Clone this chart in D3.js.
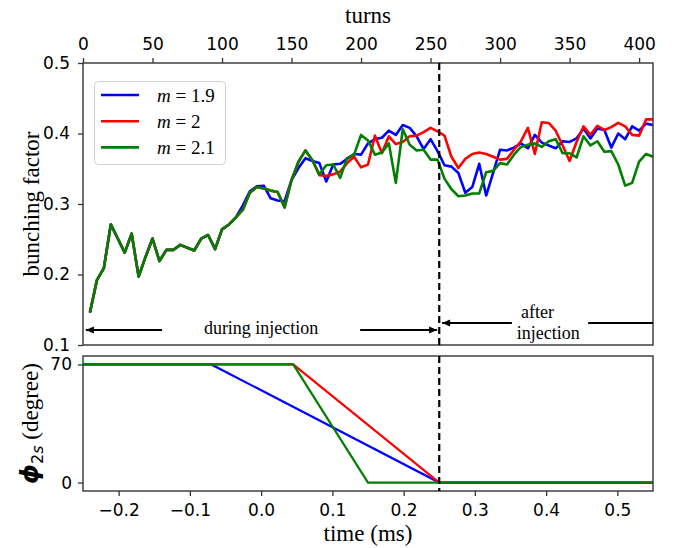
<!DOCTYPE html>
<html lang="en">
<head>
    <meta charset="UTF-8">
    <title>Bunching factor</title>
    <script src="https://d3js.org/d3.v7.min.js"></script>
    <style>
        body, html {
            margin: 0;
            padding: 0;
            background-color: #ffffff;
        }

        svg {
            display: block;
        }

        .tick text {
            font-family: 'DejaVu Sans', sans-serif;
            font-size: 17px;
            fill: #000;
        }

        .tick line {
            stroke: #333;
            stroke-width: 1.3px;
        }

        .serif {
            font-family: 'Liberation Serif', 'Times New Roman', serif;
            fill: #000;
        }
    </style>
</head>
<body>

<svg id="chart" width="681" height="548"></svg>

<script>
    // turns at which the bunching factor was sampled
    const turns = [5, 10, 15, 20, 25, 30, 35, 40, 45, 50,
        55, 60, 65, 70, 75, 80, 85, 90, 95, 100,
        105, 110, 115, 120, 125, 130, 135, 140, 145, 150,
        155, 160, 165, 170, 175, 180, 185, 190, 195, 200,
        205, 210, 215, 220, 225, 230, 235, 240, 245, 250,
        255, 260, 265, 270, 275, 280, 285, 290, 295, 300,
        305, 310, 315, 320, 325, 330, 335, 340, 345, 350,
        355, 360, 365, 370, 375, 380, 385, 390, 395, 400,
        405, 410];

    const bfBlue = [0.146, 0.192, 0.209, 0.271, 0.251, 0.231, 0.258, 0.197, 0.225, 0.251,
        0.219, 0.235, 0.235, 0.242, 0.238, 0.234, 0.251, 0.256, 0.236, 0.264,
        0.271, 0.281, 0.298, 0.318, 0.325, 0.326, 0.308, 0.305, 0.304, 0.334,
        0.351, 0.365, 0.361, 0.358, 0.332, 0.356, 0.357, 0.364, 0.371, 0.370,
        0.386, 0.392, 0.394, 0.404, 0.398, 0.412, 0.408, 0.396, 0.378, 0.392,
        0.375, 0.355, 0.353, 0.344, 0.316, 0.324, 0.357, 0.312, 0.344, 0.377,
        0.376, 0.380, 0.386, 0.379, 0.398, 0.387, 0.383, 0.379, 0.389, 0.388,
        0.393, 0.407, 0.393, 0.407, 0.405, 0.380, 0.400, 0.392, 0.410, 0.404,
        0.414, 0.412];

    const bfRed = [0.146, 0.192, 0.209, 0.271, 0.251, 0.231, 0.258, 0.197, 0.225, 0.251,
        0.219, 0.235, 0.235, 0.242, 0.238, 0.234, 0.251, 0.256, 0.236, 0.264,
        0.271, 0.281, 0.292, 0.316, 0.324, 0.322, 0.319, 0.317, 0.295, 0.334,
        0.360, 0.376, 0.362, 0.341, 0.340, 0.342, 0.346, 0.358, 0.367, 0.352,
        0.356, 0.397, 0.372, 0.396, 0.385, 0.388, 0.396, 0.397, 0.402, 0.408,
        0.403, 0.397, 0.367, 0.351, 0.364, 0.371, 0.373, 0.371, 0.367, 0.363,
        0.364, 0.377, 0.389, 0.408, 0.371, 0.416, 0.415, 0.404, 0.383, 0.361,
        0.388, 0.410, 0.398, 0.411, 0.405, 0.409, 0.415, 0.410, 0.398, 0.397,
        0.420, 0.420];

    const bfGreen = [0.146, 0.192, 0.209, 0.271, 0.251, 0.231, 0.258, 0.197, 0.225, 0.251,
        0.219, 0.235, 0.235, 0.242, 0.238, 0.234, 0.251, 0.256, 0.236, 0.264,
        0.271, 0.281, 0.292, 0.316, 0.324, 0.322, 0.319, 0.317, 0.295, 0.334,
        0.360, 0.376, 0.362, 0.342, 0.355, 0.356, 0.337, 0.365, 0.370, 0.398,
        0.390, 0.370, 0.373, 0.386, 0.330, 0.406, 0.384, 0.376, 0.377, 0.363,
        0.363, 0.336, 0.321, 0.311, 0.312, 0.315, 0.315, 0.345, 0.347, 0.358,
        0.356, 0.370, 0.381, 0.384, 0.386, 0.381, 0.389, 0.392, 0.372, 0.372,
        0.366, 0.396, 0.383, 0.389, 0.374, 0.375, 0.356, 0.326, 0.330, 0.360,
        0.371, 0.367];

    // phi_2s ramps (time in ms, phase in degree)
    const timeBlue = [-0.25, -0.07, 0.25, 0.55];
    const phaseBlue = [70, 70, 0, 0];
    const timeRed = [-0.25, 0.045, 0.25, 0.55];
    const phaseRed = [70, 70, 0, 0];
    const timeGreen = [-0.25, 0.045, 0.15, 0.55];
    const phaseGreen = [70, 70, 0, 0];

    const mValues = ["1.9", "2", "2.1"];
    const colors = ["#0000ff", "#ff0000", "#008000"];

    const turnTicks = [0, 50, 100, 150, 200, 250, 300, 350, 400];
    const bfTicks = [0.1, 0.2, 0.3, 0.4, 0.5];
    const timeTicks = [-0.2, -0.1, 0.0, 0.1, 0.2, 0.3, 0.4, 0.5];
    const phaseTicks = [0, 70];
    const injectionEnd = 0.25;

    const left = 83, right = 653;
    const top1 = 63, bottom1 = 345;
    const top2 = 356, bottom2 = 491;

    const svg = d3.select("#chart");

    const xTurns = d3.scaleLinear().domain([0, 410]).range([left, right]);
    const xTime = d3.scaleLinear().domain([-0.25, 0.55]).range([left, right]);
    const yBF = d3.scaleLinear().domain([0.1, 0.5]).range([bottom1, top1]);
    const yPh = d3.scaleLinear().domain([-5, 75]).range([bottom2, top2]);

    // clip paths for the two panels
    const defs = svg.append("defs");
    defs.append("clipPath").attr("id", "clipTop")
        .append("rect").attr("x", left).attr("y", top1).attr("width", right - left).attr("height", bottom1 - top1);
    defs.append("clipPath").attr("id", "clipBot")
        .append("rect").attr("x", left).attr("y", top2).attr("width", right - left).attr("height", bottom2 - top2);

    // ---------- top panel ----------
    const bfSeries = [bfBlue, bfRed, bfGreen];
    const lineBF = d3.line()
        .x((d, i) => xTurns(turns[i]))
        .y(d => yBF(d));

    const gTop = svg.append("g").attr("clip-path", "url(#clipTop)");
    bfSeries.forEach((s, k) => {
        gTop.append("path")
            .datum(s)
            .attr("d", lineBF)
            .attr("fill", "none")
            .attr("stroke", colors[k])
            .attr("stroke-width", 2.6)
            .attr("stroke-linejoin", "round");
    });

    // top axis (turns)
    const axTop = svg.append("g")
        .attr("transform", `translate(0,${top1})`)
        .call(d3.axisTop(xTurns).tickValues(turnTicks).tickSize(5).tickPadding(8).tickFormat(d3.format("d")));
    axTop.select(".domain").remove();

    const axLeft1 = svg.append("g")
        .attr("transform", `translate(${left},0)`)
        .call(d3.axisLeft(yBF).tickValues(bfTicks).tickSize(5).tickPadding(8).tickFormat(d3.format(".1f")));
    axLeft1.select(".domain").remove();

    svg.append("rect")
        .attr("x", left).attr("y", top1)
        .attr("width", right - left).attr("height", bottom1 - top1)
        .attr("fill", "none").attr("stroke", "#333").attr("stroke-width", 1.4);

    svg.append("text").attr("class", "serif")
        .attr("x", (left + right) / 2).attr("y", 23)
        .attr("text-anchor", "middle").attr("font-size", 23)
        .text("turns");

    svg.append("text").attr("class", "serif")
        .attr("transform", `translate(39,${(top1 + bottom1) / 2}) rotate(-90)`)
        .attr("text-anchor", "middle").attr("font-size", 23)
        .text("bunching factor");

    // legend
    const legend = svg.append("g");
    legend.append("rect")
        .attr("x", 94.5).attr("y", 81.5).attr("width", 131).attr("height", 83)
        .attr("rx", 4).attr("fill", "#fff").attr("fill-opacity", 0.8)
        .attr("stroke", "#d0d0d0").attr("stroke-width", 1);
    mValues.forEach((m, k) => {
        const yy = 95 + k * 26.2;
        legend.append("line")
            .attr("x1", 101).attr("x2", 139).attr("y1", yy).attr("y2", yy)
            .attr("stroke", colors[k]).attr("stroke-width", 2.6);
        const t = legend.append("text").attr("class", "serif")
            .attr("x", 157).attr("y", yy + 6.5).attr("font-size", 19);
        t.append("tspan").attr("font-style", "italic").text("m");
        t.append("tspan").text(" = " + m);
    });

    // injection annotations
    function arrow(x1, x2, y, head) {
        svg.append("line")
            .attr("x1", x1).attr("x2", x2).attr("y1", y).attr("y2", y)
            .attr("stroke", "#000").attr("stroke-width", 2);
        if (head) {
            const dir = x2 < x1 ? -1 : 1;
            svg.append("path")
                .attr("d", `M${x2},${y} L${x2 - dir * 8},${y - 3.5} L${x2 - dir * 8},${y + 3.5} Z`)
                .attr("fill", "#000");
        }
    }
    const yDuring = 330, yAfter = 323;
    arrow(xTime(-0.139), xTime(-0.246), yDuring, true);
    arrow(xTime(0.139), xTime(0.247), yDuring, true);
    svg.append("text").attr("class", "serif")
        .attr("x", xTime(0.0)).attr("y", yDuring + 4).attr("text-anchor", "middle").attr("font-size", 18)
        .text("during injection");

    arrow(xTime(0.352), xTime(0.254), yAfter, true);
    arrow(xTime(0.459), xTime(0.55), yAfter, false);
    svg.append("text").attr("class", "serif")
        .attr("x", xTime(0.388)).attr("y", yAfter - 5).attr("text-anchor", "middle").attr("font-size", 18)
        .text("after");
    svg.append("text").attr("class", "serif")
        .attr("x", xTime(0.403)).attr("y", yAfter + 16).attr("text-anchor", "middle").attr("font-size", 18)
        .text("injection");

    // ---------- bottom panel ----------
    const phSeries = [[timeBlue, phaseBlue], [timeRed, phaseRed], [timeGreen, phaseGreen]];
    const gBot = svg.append("g").attr("clip-path", "url(#clipBot)");
    phSeries.forEach((s, k) => {
        const pts = s[0].map((t, i) => [t, s[1][i]]);
        gBot.append("path")
            .datum(pts)
            .attr("d", d3.line().x(d => xTime(d[0])).y(d => yPh(d[1])))
            .attr("fill", "none")
            .attr("stroke", colors[k])
            .attr("stroke-width", 2.2);
    });

    const axBottom = svg.append("g")
        .attr("transform", `translate(0,${bottom2})`)
        .call(d3.axisBottom(xTime).tickValues(timeTicks).tickSize(5).tickPadding(8).tickFormat(d3.format(".1f")));
    axBottom.select(".domain").remove();

    const axLeft2 = svg.append("g")
        .attr("transform", `translate(${left},0)`)
        .call(d3.axisLeft(yPh).tickValues(phaseTicks).tickSize(5).tickPadding(6).tickFormat(d3.format("d")));
    axLeft2.select(".domain").remove();

    svg.append("rect")
        .attr("x", left).attr("y", top2)
        .attr("width", right - left).attr("height", bottom2 - top2)
        .attr("fill", "none").attr("stroke", "#333").attr("stroke-width", 1.4);

    svg.append("text").attr("class", "serif")
        .attr("x", (left + right) / 2).attr("y", 541)
        .attr("text-anchor", "middle").attr("font-size", 23)
        .text("time (ms)");

    const phLabel = svg.append("text")
        .attr("transform", `translate(38,${(top2 + bottom2) / 2}) rotate(-90)`)
        .attr("text-anchor", "middle");
    phLabel.append("tspan")
        .attr("font-family", "'DejaVu Sans', sans-serif").attr("font-weight", "bold")
        .attr("font-style", "italic").attr("font-size", 25).text("\u03d5");
    phLabel.append("tspan")
        .attr("font-family", "'DejaVu Sans', sans-serif").attr("font-size", 16).attr("dy", 5).text("2");
    phLabel.append("tspan")
        .attr("font-family", "'DejaVu Sans', sans-serif").attr("font-style", "italic").attr("font-size", 16).text("s");
    phLabel.append("tspan")
        .attr("class", "serif").attr("font-size", 23).attr("dy", -5).text(" (degree)");

    // dashed line marking end of injection, through both panels
    [[top1, bottom1], [top2, bottom2]].forEach(r => {
        svg.append("line")
            .attr("x1", xTime(injectionEnd)).attr("x2", xTime(injectionEnd))
            .attr("y1", r[0]).attr("y2", r[1])
            .attr("stroke", "#000").attr("stroke-width", 2.2)
            .attr("stroke-dasharray", "7,4");
    });
</script>

</body>
</html>
